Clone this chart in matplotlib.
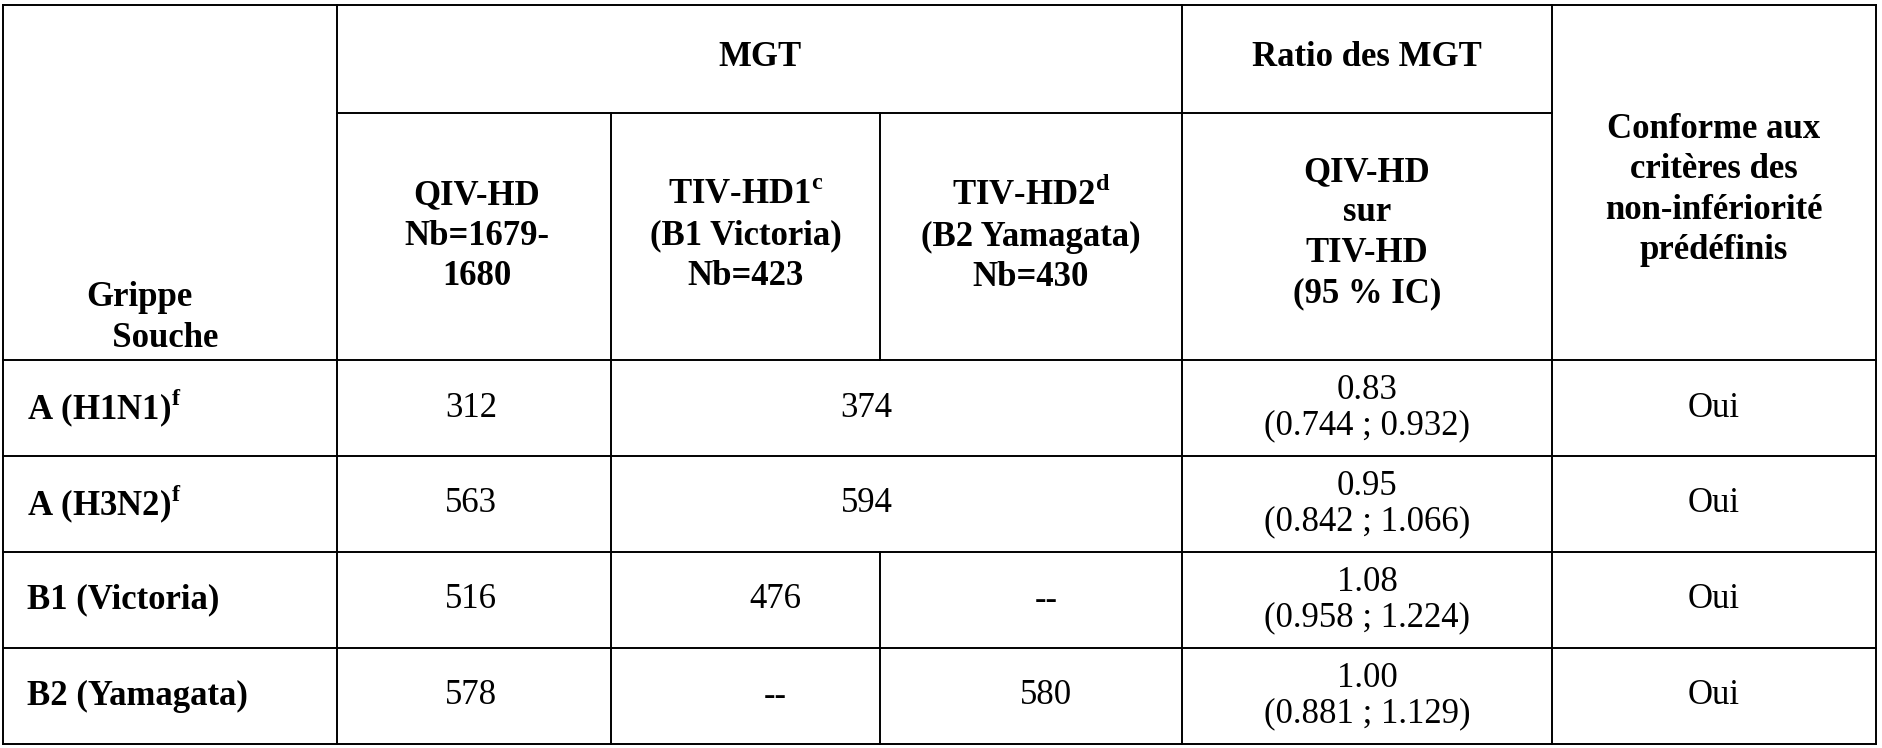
import matplotlib
matplotlib.use("Agg")
import matplotlib.pyplot as plt

W, H = 1882, 748
DPI = 100

# data
strains = ["A (H1N1)$^{\\mathregular{f}}$", "A (H3N2)$^{\\mathregular{f}}$", "B1 (Victoria)", "B2 (Yamagata)"]
qiv_hd = ["312", "563", "516", "578"]
tiv_hd1 = ["374", "594", "476", "--"]
tiv_hd2 = [None, None, "--", "580"]
ratio = ["0.83", "0.95", "1.08", "1.00"]
ci = ["(0.744 ; 0.932)", "(0.842 ; 1.066)", "(0.958 ; 1.224)", "(0.881 ; 1.129)"]
conforme = ["Oui", "Oui", "Oui", "Oui"]

XS = [3, 337, 611, 880, 1182, 1552, 1876]
YS = [5, 113, 360, 456, 552, 648, 744]
FONT = "Liberation Serif"
FS = 25

fig = plt.figure(figsize=(W / DPI, H / DPI), dpi=DPI, facecolor="white")
ax = fig.add_axes([0, 0, 1, 1])
ax.set_xlim(0, W); ax.set_ylim(H, 0)
ax.axis("off")


def line(x0, y0, x1, y1):
    ax.plot([x0, x1], [y0, y1], color="black", lw=1.4, solid_capstyle="projecting")


def t(x, y, s, bold=False, ha="center", ls=1.3):
    ax.text(x, y, s, ha=ha, va="center", fontsize=FS, family=FONT,
            fontweight="bold" if bold else "normal", linespacing=ls)


# grid
line(XS[0], YS[0], XS[-1], YS[0])
line(XS[1], YS[1], XS[5], YS[1])
for y in YS[2:]:
    line(XS[0], y, XS[-1], y)
line(XS[0], YS[0], XS[0], YS[-1])
line(XS[-1], YS[0], XS[-1], YS[-1])
for x in (XS[1], XS[4], XS[5]):
    line(x, YS[0], x, YS[-1])
line(XS[2], YS[1], XS[2], YS[-1])
line(XS[3], YS[1], XS[3], YS[2])
line(XS[3], YS[4], XS[3], YS[-1])

# header
cx = [(XS[i] + XS[i + 1]) / 2 for i in range(6)]
t((XS[1] + XS[4]) / 2, 57, "MGT", bold=True)
t(cx[4], 57, "Ratio des MGT", bold=True)
t(cx[5], 190, "Conforme aux\ncritères des\nnon-infériorité\nprédéfinis", bold=True)
t(86, 318, "Grippe\n   Souche", bold=True, ha="left")
t(cx[1] + 3, 236, "QIV-HD\nNb=1679-\n1680", bold=True)
t(cx[2], 236, "TIV-HD1$^{\\mathregular{c}}$\n(B1 Victoria)\nNb=423", bold=True)
t(cx[3], 236, "TIV-HD2$^{\\mathregular{d}}$\n(B2 Yamagata)\nNb=430", bold=True)
t(cx[4], 233, "QIV-HD\nsur\nTIV-HD\n(95 % IC)", bold=True)

# body
for i in range(len(strains)):
    yc = (YS[i + 2] + YS[i + 3]) / 2
    t(XS[0] + 24, yc, strains[i], bold=True, ha="left")
    t(cx[1] - 3, yc, qiv_hd[i])
    if tiv_hd2[i] is None:
        t((XS[2] + XS[4]) / 2 - 30, yc, tiv_hd1[i])
    else:
        t(cx[2] + 30, yc, tiv_hd1[i])
        t(cx[3] + 15, yc, tiv_hd2[i])
    t(cx[4], yc, ratio[i] + "\n" + ci[i], ls=1.1)
    t(cx[5], yc, conforme[i])

fig.savefig("out.png", dpi=DPI, facecolor="white")
